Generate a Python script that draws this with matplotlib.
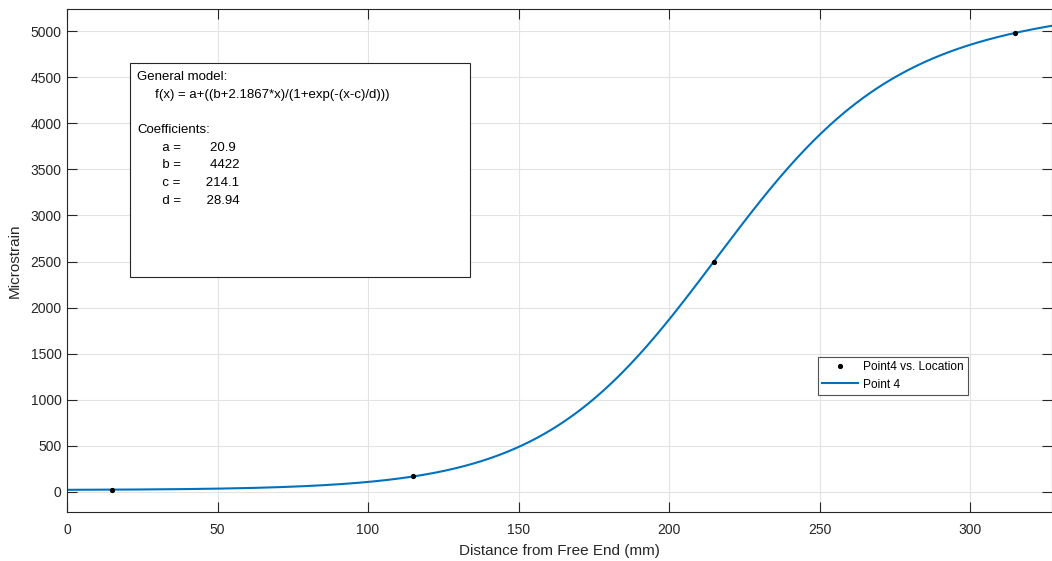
import matplotlib
matplotlib.use("Agg")
import matplotlib.pyplot as plt
import numpy as np

plt.rcParams['font.family'] = ['Liberation Sans', 'DejaVu Sans']

# measured points
location = [15, 115, 215, 315]
point4 = [25, 170, 2500, 4980]

# fit coefficients shown in the box
a, b, c, d = 20.9, 4422, 214.1, 28.94
slope = 2.1867

xfit = np.linspace(0, 330, 600)
yfit = a + (b + slope * xfit) / (1 + np.exp(-(xfit - c) / d))

fig = plt.figure(figsize=(10.52, 5.61), dpi=100)
ax = fig.add_axes([67 / 1052, 49 / 561, 985 / 1052, 503 / 561])

ax.plot(location, point4, 'k.', ms=5.5, label='Point4 vs. Location', zorder=3)
ax.plot(xfit, yfit, color='#0072BD', lw=1.5, label='Point 4', zorder=2)

ax.set_xlim(0, 327.2)
ax.set_ylim(-217, 5239)
ax.set_xticks(np.arange(0, 301, 50))
ax.set_yticks(np.arange(0, 5001, 500))
ax.grid(True, color='#e3e3e3', lw=0.8)
ax.set_axisbelow(True)
ax.tick_params(direction='in', length=7, width=0.8, top=True, right=True,
               colors='#262626', labelsize=10)
ax.tick_params(axis='x', pad=8)
ax.tick_params(axis='y', pad=4)
for s in ax.spines.values():
    s.set_color('#262626')
    s.set_linewidth(0.8)

ax.set_xlabel('Distance from Free End (mm)', fontsize=11, color='#262626', labelpad=5)
ax.set_ylabel('Microstrain', fontsize=11, color='#262626', labelpad=6)

leg = ax.legend(loc='upper left', bbox_to_anchor=(751 / 985, 155 / 503),
                fontsize=8.6, frameon=True, fancybox=False, edgecolor='#262626',
                borderpad=0.35, handlelength=3, handletextpad=0.4, labelspacing=0.45,
                borderaxespad=0)
leg.get_frame().set_linewidth(0.8)

txt = ('General model:\n'
       '     f(x) = a+((b+2.1867*x)/(1+exp(-(x-c)/d)))\n'
       '\n'
       'Coefficients:\n'
       '       a =        20.9\n'
       '       b =        4422\n'
       '       c =       214.1\n'
       '       d =       28.94')
ax.add_patch(plt.Rectangle((63 / 985, 1 - 268 / 503), 340 / 985, 214 / 503,
                           transform=ax.transAxes, fill=True, fc='white',
                           ec='#262626', lw=0.8, zorder=4))
ax.text(70 / 985, 1 - 62 / 503, txt, transform=ax.transAxes, va='top', ha='left',
        fontsize=9.5, linespacing=1.63, color='black', zorder=5)

fig.savefig('out.png', dpi=100)
